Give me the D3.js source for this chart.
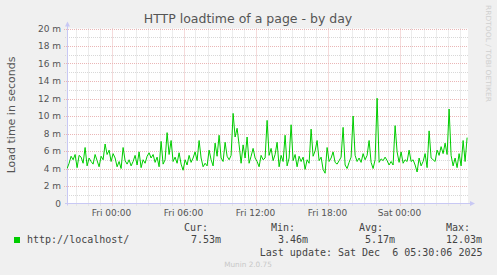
<!DOCTYPE html>
<html><head><meta charset="utf-8">
<script src="https://cdn.jsdelivr.net/npm/d3@7"></script>
<style>
html,body{margin:0;padding:0;background:#f0f0f0;}
svg{display:block;}
</style></head>
<body>
<svg id="c" width="497" height="275"></svg>
<script>
// ---- data ----
const title = "HTTP loadtime of a page - by day";
const yAxisLabel = "Load time in seconds";
const seriesName = "http://localhost/";
const startTime = Date.UTC(2025, 11, 4, 20, 18); // Thu 20:18
const stepMinutes = 10;
// load time in milliseconds ("m" = milli), one per 10 minutes
const loadTimes = [
 4.0,4.6,5.4,5.0,5.6,4.1,5.5,5.3,4.6,6.4,4.3,5.2,4.8,4.5,5.6,4.9,4.2,5.4,5.0,6.8,
 5.6,6.1,4.8,5.7,5.2,4.2,4.8,4.0,6.4,4.9,4.5,5.0,4.3,4.8,5.5,4.4,5.9,4.1,5.0,4.6,
 5.4,5.8,5.2,5.6,4.7,5.3,4.2,7.1,4.5,5.0,8.1,5.6,7.2,4.8,5.3,4.6,5.8,4.5,3.8,5.0,
 4.4,5.5,4.7,5.2,5.9,4.9,7.2,5.2,4.2,4.6,4.3,6.1,5.0,4.3,6.9,5.4,7.8,5.2,4.8,7.0,
 5.4,5.0,5.5,10.3,7.6,8.6,6.7,4.6,6.7,5.2,7.6,4.6,5.4,6.3,5.2,4.8,4.2,5.5,5.0,5.2,
 9.5,5.5,6.3,4.9,5.6,7.0,4.2,5.5,4.8,7.8,4.3,5.2,9.0,4.9,5.6,4.2,5.4,4.8,5.3,3.9,
 5.0,4.6,8.5,5.4,6.0,7.2,4.9,5.3,3.9,3.46,6.4,4.8,5.2,5.9,4.7,4.5,4.9,5.3,8.7,4.4,
 4.0,4.7,5.3,10.0,5.5,4.8,5.2,4.7,5.7,5.0,5.5,7.2,4.7,4.0,5.0,12.03,4.7,5.1,4.9,5.3,
 4.9,4.4,4.8,4.4,8.9,5.9,4.7,5.9,4.6,5.0,4.8,6.1,4.8,5.0,4.4,3.6,5.2,4.3,4.8,5.7,
 4.1,8.3,5.2,5.0,4.8,6.1,5.5,6.5,5.7,6.9,5.6,10.8,5.5,4.3,5.2,4.1,5.7,4.3,7.2,4.8,
 7.53
];
const yMajorTicks = [0,2,4,6,8,10,12,14,16,18,20];
const yTickLabels = ["0","2 m","4 m","6 m","8 m","10 m","12 m","14 m","16 m","18 m","20 m"];
const xMajorTicks = [Date.UTC(2025,11,5,0),Date.UTC(2025,11,5,6),Date.UTC(2025,11,5,12),Date.UTC(2025,11,5,18),Date.UTC(2025,11,6,0)];
const xTickLabels = ["Fri 00:00","Fri 06:00","Fri 12:00","Fri 18:00","Sat 00:00"];
const legendHeads = ["Cur:","Min:","Avg:","Max:"];
const legendValues = ["7.53m","3.46m","5.17m","12.03m"];
const lastUpdate = "Last update: Sat Dec  6 05:30:06 2025";
const footer = "Munin 2.0.75";
const sideText = "RRDTOOL / TOBI OETIKER";

// ---- drawing ----
const svg = d3.select("#c");
const L = 67, R = 467, T = 28.5, B = 203.5;
const x = d3.scaleUtc().domain([Date.UTC(2025,11,4,20,17,30), Date.UTC(2025,11,6,5,37,30)]).range([L, R]);
const y = d3.scaleLinear().domain([0, 20]).range([B, T]);
const data = loadTimes.map((v,i)=>({t:startTime + i*stepMinutes*60000, v}));

svg.append("rect").attr("x",L).attr("y",T).attr("width",R-L+1).attr("height",B-T).attr("fill","#fff");

const grid = svg.append("g");
const minorColor = "#d8d8d8", majorColor = "#eab6b6";
d3.range(1,20,2).forEach(v=>{
  grid.append("line").attr("x1",L-2).attr("x2",R+1).attr("y1",Math.round(y(v))+0.5).attr("y2",Math.round(y(v))+0.5)
   .attr("stroke",minorColor).attr("stroke-dasharray","1,1");
});
const hours = d3.utcHour.range(new Date(x.domain()[0]), new Date(x.domain()[1]));
hours.forEach(h=>{
  if (h.getUTCHours()%6===0) return;
  const xx = Math.round(x(h))+0.5;
  grid.append("line").attr("x1",xx).attr("x2",xx).attr("y1",T).attr("y2",B+2)
   .attr("stroke",minorColor).attr("stroke-dasharray","1,1");
});
yMajorTicks.forEach(v=>{
  if (v===0) return;
  grid.append("line").attr("x1",L-3).attr("x2",R+1).attr("y1",Math.round(y(v))+0.5).attr("y2",Math.round(y(v))+0.5)
   .attr("stroke",majorColor).attr("stroke-dasharray","1,1");
});
xMajorTicks.forEach(t=>{
  const xx = Math.round(x(t))+0.5;
  grid.append("line").attr("x1",xx).attr("x2",xx).attr("y1",T).attr("y2",B+3)
   .attr("stroke",majorColor).attr("stroke-dasharray","1,1");
});

// axes
const axisColor = "#c8c8f4";
svg.append("line").attr("x1",L+0.5).attr("x2",L+0.5).attr("y1",B+2).attr("y2",T-4).attr("stroke",axisColor);
svg.append("path").attr("d",`M${L-2},${T-2} L${L+3},${T-2} L${L+0.5},${T-7} Z`).attr("fill",axisColor);
svg.append("line").attr("x1",L-2).attr("x2",R+4).attr("y1",B).attr("y2",B).attr("stroke",axisColor);
svg.append("path").attr("d",`M${R+3},${B-2.5} L${R+3},${B+2.5} L${R+8},${B} Z`).attr("fill",axisColor);

// line
svg.append("clipPath").attr("id","pc").append("rect").attr("x",L).attr("y",0).attr("width",R-L+1).attr("height",B);
svg.append("path").datum(data).attr("clip-path","url(#pc)")
  .attr("d", d3.line().x(d=>x(d.t)).y(d=>y(d.v)))
  .attr("fill","none").attr("stroke","#00cc00").attr("stroke-width",1);

// tick labels
const sans = "'DejaVu Sans', sans-serif", mono = "'DejaVu Sans Mono', monospace";
yMajorTicks.forEach((v,i)=>{
  svg.append("text").attr("x",61).attr("y",y(v)).attr("dy","0.36em").attr("text-anchor","end")
   .attr("font-family",sans).attr("font-size",9).attr("fill","#555").text(yTickLabels[i]);
});
xMajorTicks.forEach((t,i)=>{
  svg.append("text").attr("x",x(t)).attr("y",216).attr("text-anchor","middle")
   .attr("font-family",sans).attr("font-size",9).attr("fill","#555").text(xTickLabels[i]);
});

// title, labels
svg.append("text").attr("x",248).attr("y",23).attr("text-anchor","middle")
  .attr("font-family",sans).attr("font-size",12.5).attr("fill","#555").text(title);
svg.append("text").attr("transform","translate(15,115) rotate(-90)").attr("text-anchor","middle")
  .attr("font-family",sans).attr("font-size",11).attr("fill","#555").text(yAxisLabel);
svg.append("text").attr("transform","translate(486,5) rotate(90)").attr("text-anchor","start")
  .attr("font-family",sans).attr("font-size",7).attr("fill","#cfcfcf").attr("textLength",97).attr("lengthAdjust","spacingAndGlyphs").text(sideText);

// legend
svg.append("rect").attr("x",14).attr("y",237).attr("width",6).attr("height",6).attr("fill","#00cc00");
svg.append("text").attr("x",27).attr("y",243).attr("font-family",mono).attr("font-size",10).attr("fill","#444").text(seriesName);
const headEnds = [208,295,383,470], valEnds = [221,308,395,482];
legendHeads.forEach((h,i)=>{
  svg.append("text").attr("x",headEnds[i]).attr("y",230.5).attr("text-anchor","end")
   .attr("font-family",mono).attr("font-size",10).attr("fill","#444").text(h);
  svg.append("text").attr("x",valEnds[i]).attr("y",243).attr("text-anchor","end")
   .attr("font-family",mono).attr("font-size",10).attr("fill","#444").text(legendValues[i]);
});
svg.append("text").attr("x",482.5).attr("y",255.5).attr("text-anchor","end").attr("xml:space","preserve")
  .style("white-space","pre").attr("font-family",mono).attr("font-size",10).attr("fill","#444").text(lastUpdate);
svg.append("text").attr("x",248).attr("y",266.5).attr("text-anchor","middle")
  .attr("font-family",sans).attr("font-size",7.3).attr("fill","#c8c8c8").text(footer);
</script>
</body></html>
